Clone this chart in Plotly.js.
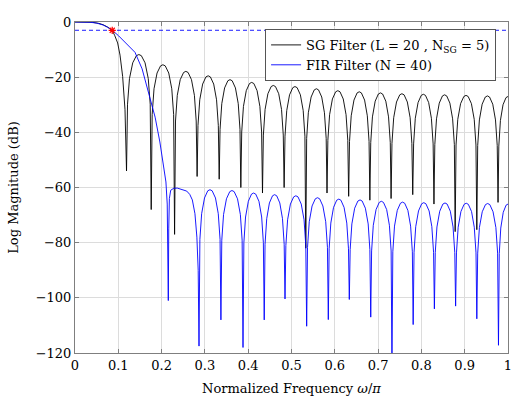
<!DOCTYPE html>
<html>
<head>
<meta charset="utf-8">
<script src="https://cdn.plot.ly/plotly-3.0.1.min.js"></script>
<style>html,body{margin:0;padding:0;background:#fff;}#chart{width:519px;height:403px;}</style>
</head>
<body>
<div id="chart"></div>
<script>
// ---- SG filter (L = 20, N_SG = 5): frequency points and magnitudes (dB)
const sgFreq = [
  0, 0.02, 0.04, 0.055, 0.065, 0.075, 0.086, 0.092, 0.0985, 0.104, 0.110, 0.1155, 0.118, 0.119,
  0.1213, 0.1258, 0.1333, 0.1418, 0.1475, 0.1532, 0.1618, 0.1692, 0.1737, 0.176,
  0.1782, 0.1825, 0.1895, 0.1976, 0.203, 0.2084, 0.2165, 0.2235, 0.2278, 0.230,
  0.2321, 0.2362, 0.243, 0.2508, 0.256, 0.2612, 0.269, 0.2758, 0.2799, 0.282,
  0.2840, 0.2881, 0.2948, 0.3024, 0.3075, 0.3126, 0.3203, 0.3269, 0.3310, 0.333,
  0.335, 0.339, 0.3455, 0.353, 0.358, 0.363, 0.3705, 0.377, 0.381, 0.383,
  0.385, 0.389, 0.3955, 0.403, 0.408, 0.413, 0.4205, 0.427, 0.431, 0.433,
  0.435, 0.439, 0.4455, 0.453, 0.458, 0.463, 0.4705, 0.477, 0.481, 0.483,
  0.485, 0.489, 0.4955, 0.503, 0.508, 0.513, 0.5205, 0.527, 0.531, 0.533,
  0.535, 0.5389, 0.5453, 0.5526, 0.5575, 0.5624, 0.5698, 0.5761, 0.5801, 0.582,
  0.584, 0.588, 0.5945, 0.602, 0.607, 0.612, 0.6195, 0.626, 0.630, 0.632,
  0.634, 0.6379, 0.6443, 0.6516, 0.6565, 0.6614, 0.6688, 0.6751, 0.6791, 0.681,
  0.683, 0.6869, 0.6933, 0.7006, 0.7055, 0.7104, 0.7178, 0.7241, 0.7281, 0.730,
  0.732, 0.736, 0.7425, 0.750, 0.755, 0.760, 0.7675, 0.774, 0.778, 0.780,
  0.782, 0.7859, 0.7923, 0.7996, 0.8045, 0.8094, 0.8168, 0.8231, 0.8271, 0.829,
  0.831, 0.8349, 0.8413, 0.8486, 0.8535, 0.8584, 0.8658, 0.8721, 0.8761, 0.878,
  0.880, 0.884, 0.8905, 0.898, 0.903, 0.908, 0.9155, 0.922, 0.926, 0.928,
  0.930, 0.9339, 0.9403, 0.9476, 0.9525, 0.9574, 0.9648, 0.9711, 0.9751, 0.977,
  0.9788, 0.9825, 0.9885, 0.9954, 1.0
];
const sgMag = [
  0, 0, -0.1, -0.5, -1.0, -1.8, -3, -5, -7.6, -12, -19.7, -31.8, -43.8, -54,
  -29.8, -20.5, -14.8, -12.2, -11.8, -12.2, -14.8, -20.5, -29.8, -68,
  -33.5, -24.2, -18.5, -15.9, -15.5, -15.9, -18.5, -24.2, -33.5, -77,
  -35.9, -26.6, -20.9, -18.3, -17.9, -18.3, -20.9, -26.6, -35.9, -56,
  -37.5, -28.2, -22.5, -19.9, -19.5, -19.9, -22.5, -28.2, -37.5, -57,
  -38.9, -29.6, -23.9, -21.3, -20.9, -21.3, -23.9, -29.6, -38.9, -60,
  -39.9, -30.6, -24.9, -22.3, -21.9, -22.3, -24.9, -30.6, -39.9, -62,
  -41.0, -31.7, -26.0, -23.4, -23.0, -23.4, -26.0, -31.7, -41.0, -60,
  -41.4, -32.1, -26.4, -23.8, -23.4, -23.8, -26.4, -32.1, -41.4, -82,
  -42.2, -32.9, -27.2, -24.6, -24.2, -24.6, -27.2, -32.9, -42.2, -62,
  -42.9, -33.6, -27.9, -25.3, -24.9, -25.3, -27.9, -33.6, -42.9, -63.2,
  -43.3, -34.0, -28.3, -25.7, -25.3, -25.7, -28.3, -34.0, -43.3, -64.6,
  -43.7, -34.4, -28.7, -26.1, -25.7, -26.1, -28.7, -34.4, -43.7, -64,
  -44.0, -34.7, -29.0, -26.4, -26.0, -26.4, -29.0, -34.7, -44.0, -62.6,
  -44.2, -34.9, -29.2, -26.6, -26.2, -26.6, -29.2, -34.9, -44.2, -66,
  -44.4, -35.1, -29.4, -26.8, -26.4, -26.8, -29.4, -35.1, -44.4, -76,
  -44.6, -35.3, -29.6, -27.0, -26.6, -27.0, -29.6, -35.3, -44.6, -75.3,
  -44.8, -35.5, -29.8, -27.2, -26.8, -27.2, -29.8, -35.5, -44.8, -65.4,
  -45.0, -35.7, -30.0, -27.4, -27.0
];

// ---- FIR filter (N = 40): frequency points and magnitudes (dB)
const firFreq = [
  0, 0.02, 0.035, 0.05, 0.065, 0.075, 0.086, 0.1, 0.115, 0.128, 0.1386, 0.155, 0.173, 0.185, 0.196, 0.205, 0.210, 0.213, 0.2155,
  0.2165, 0.218, 0.221, 0.228, 0.236, 0.248, 0.258, 0.265, 0.271, 0.277, 0.2815, 0.2845, 0.2864,
  0.2884, 0.2925, 0.2991, 0.3066, 0.3117, 0.3168, 0.3244, 0.3309, 0.3350, 0.337,
  0.339, 0.3431, 0.3498, 0.3574, 0.3625, 0.3676, 0.3753, 0.3819, 0.386, 0.388,
  0.390, 0.3939, 0.4003, 0.4076, 0.4125, 0.4174, 0.4248, 0.4311, 0.4350, 0.437,
  0.4389, 0.4428, 0.449, 0.4562, 0.461, 0.4658, 0.473, 0.4792, 0.4831, 0.485,
  0.487, 0.491, 0.4975, 0.505, 0.510, 0.515, 0.5225, 0.529, 0.533, 0.535,
  0.537, 0.541, 0.5475, 0.555, 0.560, 0.565, 0.5725, 0.579, 0.583, 0.585,
  0.5869, 0.5908, 0.5971, 0.6044, 0.6093, 0.6141, 0.6214, 0.6277, 0.6316, 0.6335,
  0.6355, 0.6394, 0.6459, 0.6533, 0.6583, 0.6632, 0.6706, 0.6771, 0.6810, 0.683,
  0.685, 0.6889, 0.6953, 0.7026, 0.7075, 0.7124, 0.7198, 0.7261, 0.7301, 0.732,
  0.734, 0.7379, 0.7443, 0.7516, 0.7565, 0.7614, 0.7688, 0.7751, 0.7791, 0.781,
  0.783, 0.7869, 0.7933, 0.8006, 0.8055, 0.8104, 0.8178, 0.8241, 0.8281, 0.830,
  0.832, 0.8359, 0.8423, 0.8496, 0.8545, 0.8594, 0.8668, 0.8731, 0.8771, 0.879,
  0.881, 0.8849, 0.8913, 0.8986, 0.9035, 0.9084, 0.9158, 0.9221, 0.9261, 0.928,
  0.930, 0.934, 0.9405, 0.948, 0.953, 0.958, 0.9655, 0.972, 0.976, 0.978,
  0.9798, 0.9833, 0.989, 0.9956, 1.0
];
const firMag = [
  0, 0, -0.1, -0.4, -1.1, -1.9, -3, -4.9, -7.3, -9.2, -11, -17, -27, -34.5, -43.5, -52, -58, -66, -101,
  -75, -64, -61, -60.3, -60.2, -60.7, -61.3, -62.5, -64.5, -69.5, -78, -90, -117.5,
  -78.8, -69.5, -63.8, -61.2, -60.8, -61.2, -63.8, -69.5, -78.8, -108,
  -79.1, -69.8, -64.1, -61.5, -61.1, -61.5, -64.1, -69.8, -79.1, -118,
  -80.0, -70.7, -65.0, -62.4, -62.0, -62.4, -65.0, -70.7, -80.0, -108,
  -80.6, -71.3, -65.6, -63.0, -62.6, -63.0, -65.6, -71.3, -80.6, -100.4,
  -81.0, -71.7, -66.0, -63.4, -63.0, -63.4, -66.0, -71.7, -81.0, -110.3,
  -81.7, -72.4, -66.7, -64.1, -63.7, -64.1, -66.7, -72.4, -81.7, -107.9,
  -82.2, -72.9, -67.2, -64.6, -64.2, -64.6, -67.2, -72.9, -82.2, -100.6,
  -82.5, -73.2, -67.5, -64.9, -64.5, -64.9, -67.5, -73.2, -82.5, -107,
  -83.0, -73.7, -68.0, -65.4, -65.0, -65.4, -68.0, -73.7, -83.0, -125,
  -83.3, -74.0, -68.3, -65.7, -65.3, -65.7, -68.3, -74.0, -83.3, -109.7,
  -83.5, -74.2, -68.5, -65.9, -65.5, -65.9, -68.5, -74.2, -83.5, -104,
  -83.6, -74.3, -68.6, -66.0, -65.6, -66.0, -68.6, -74.3, -83.6, -103,
  -83.7, -74.4, -68.7, -66.1, -65.7, -66.1, -68.7, -74.4, -83.7, -107.6,
  -83.8, -74.5, -68.8, -66.2, -65.8, -66.2, -68.8, -74.5, -83.8, -117.2,
  -84.0, -74.7, -69.0, -66.4, -66.0
];

// ---- -3 dB reference line and cutoff point
const refFreq = [0, 1];
const refMag = [-3, -3];
const cutFreq = [0.086];
const cutMag = [-3];

// ---- ticks
const xTicks = [0, 0.1, 0.2, 0.3, 0.4, 0.5, 0.6, 0.7, 0.8, 0.9, 1];
const xTickText = ['0', '0.1', '0.2', '0.3', '0.4', '0.5', '0.6', '0.7', '0.8', '0.9', '1'];
const yTicks = [-120, -100, -80, -60, -40, -20, 0];

const FONT = 'DejaVu Serif, serif';

const traces = [
  {x: sgFreq, y: sgMag, type: 'scatter', mode: 'lines', name: 'SG Filter (L = 20 , N<sub>SG</sub> = 5)',
   line: {color: '#000000', width: 0.9}},
  {x: firFreq, y: firMag, type: 'scatter', mode: 'lines', name: 'FIR Filter (N = 40)',
   line: {color: '#0000ff', width: 0.9}},
  {x: refFreq, y: refMag, type: 'scatter', mode: 'lines', showlegend: false,
   line: {color: '#0000ff', width: 0.9, dash: '4px,3px'}},
  {x: cutFreq, y: cutMag, type: 'scatter', mode: 'markers', showlegend: false, cliponaxis: false,
   marker: {symbol: 'asterisk-open', size: 6, color: '#ff0000', line: {color: '#ff0000', width: 1.2}}}
];

const axisCommon = {
  showgrid: true, gridcolor: '#dcdcdc', gridwidth: 1,
  zeroline: false, showline: true, linecolor: '#7f7f7f', linewidth: 1,
  mirror: 'ticks', ticks: 'inside', ticklen: 4, tickcolor: '#7f7f7f', tickwidth: 1,
  tickfont: {family: FONT, size: 13, color: '#000'}
};

const layout = {
  width: 519, height: 403,
  margin: {l: 75, r: 11, t: 22, b: 50},
  paper_bgcolor: '#fff', plot_bgcolor: '#fff',
  font: {family: FONT, size: 13, color: '#000'},
  xaxis: Object.assign({}, axisCommon, {
    range: [0, 1], tickvals: xTicks, ticktext: xTickText,
    title: {text: 'Normalized Frequency <i>ω</i>/<i>π</i>', font: {family: FONT, size: 13, color: '#000'}, standoff: 12}
  }),
  yaxis: Object.assign({}, axisCommon, {
    range: [-120, 0], tickvals: yTicks,
    title: {text: 'Log Magnitude (dB)', font: {family: FONT, size: 13, color: '#000'}, standoff: 14}
  }),
  legend: {
    x: 0.439, y: 0.979, xanchor: 'left', yanchor: 'top',
    bgcolor: '#fff', bordercolor: '#555', borderwidth: 1,
    font: {family: FONT, size: 13, color: '#000'},
    itemwidth: 30, tracegroupgap: 0
  },
  showlegend: true
};

Plotly.newPlot('chart', traces, layout, {staticPlot: true, displayModeBar: false});
</script>
</body>
</html>
